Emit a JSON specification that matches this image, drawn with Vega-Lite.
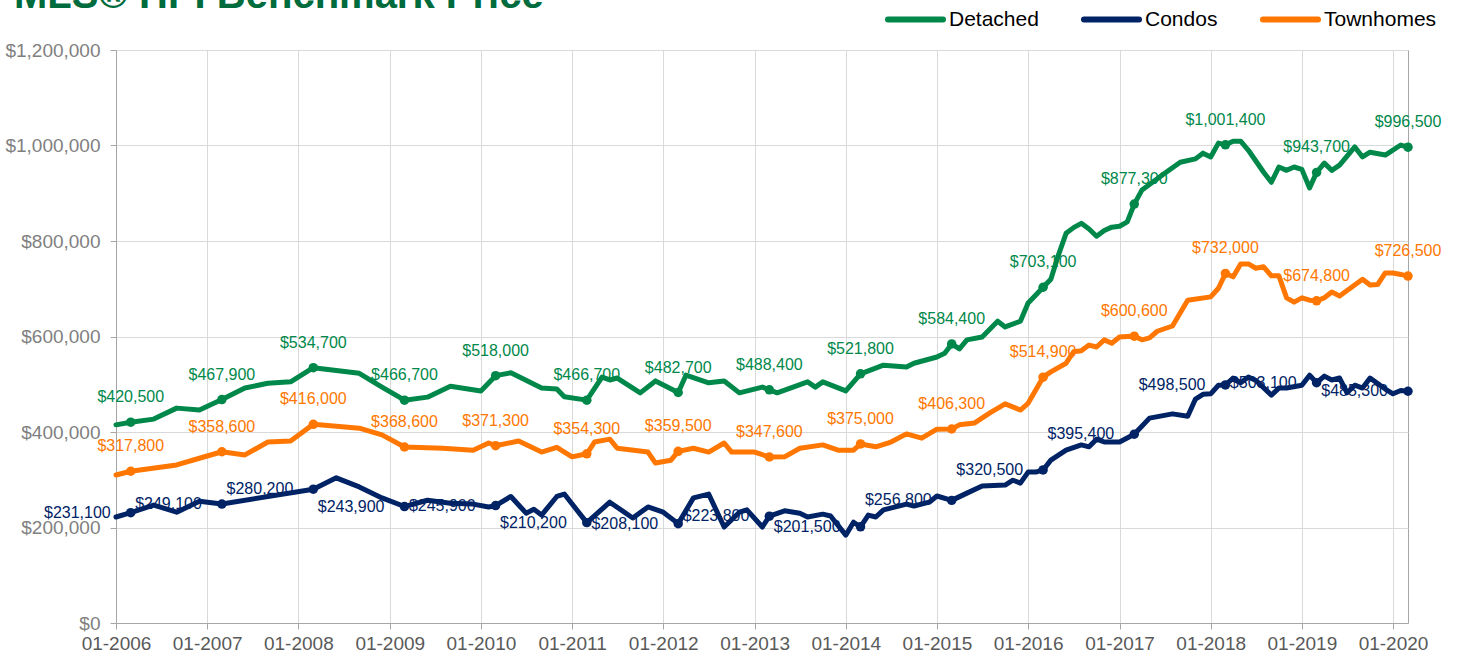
{
  "$schema": "https://vega.github.io/schema/vega-lite/v6.json",
  "width": 1292,
  "height": 573,
  "autosize": {"type": "none"},
  "padding": {"left": 116, "top": 50, "right": 50, "bottom": 37},
  "background": "white",
  "title": {
    "text": "MLS® HPI Benchmark Price",
    "anchor": "start",
    "frame": "group",
    "font": "Liberation Sans",
    "fontSize": 40,
    "fontWeight": "bold",
    "color": "#006b3c",
    "dx": -102,
    "dy": 37,
    "offset": 10
  },
  "config": {
    "view": {"stroke": "#a6a6a6", "strokeWidth": 1},
    "font": "Liberation Sans",
    "axis": {
      "labelFont": "Liberation Sans",
      "labelFontSize": 19,
      "gridColor": "#d9d9d9",
      "gridWidth": 1,
      "domainColor": "#a6a6a6",
      "tickColor": "#a6a6a6",
      "tickSize": 6,
      "title": null
    }
  },
  "datasets": {
    "prices": [
      {"date": "2006-01-01", "type": "Detached", "value": 415000},
      {"date": "2006-03-01", "type": "Detached", "value": 420500, "lab": 1},
      {"date": "2006-06-01", "type": "Detached", "value": 427000},
      {"date": "2006-09-01", "type": "Detached", "value": 450000},
      {"date": "2006-12-01", "type": "Detached", "value": 446000},
      {"date": "2007-03-01", "type": "Detached", "value": 467900, "lab": 1},
      {"date": "2007-06-01", "type": "Detached", "value": 492000},
      {"date": "2007-09-01", "type": "Detached", "value": 502000},
      {"date": "2007-12-01", "type": "Detached", "value": 505000},
      {"date": "2008-03-01", "type": "Detached", "value": 534700, "lab": 1},
      {"date": "2008-09-01", "type": "Detached", "value": 523000},
      {"date": "2008-12-01", "type": "Detached", "value": 494000},
      {"date": "2009-03-01", "type": "Detached", "value": 466700, "lab": 1},
      {"date": "2009-06-01", "type": "Detached", "value": 473000},
      {"date": "2009-09-01", "type": "Detached", "value": 496000},
      {"date": "2010-01-01", "type": "Detached", "value": 486000},
      {"date": "2010-03-01", "type": "Detached", "value": 518000, "lab": 1},
      {"date": "2010-05-01", "type": "Detached", "value": 524000},
      {"date": "2010-09-01", "type": "Detached", "value": 492000},
      {"date": "2010-11-01", "type": "Detached", "value": 490000},
      {"date": "2010-12-01", "type": "Detached", "value": 474000},
      {"date": "2011-03-01", "type": "Detached", "value": 466700, "lab": 1},
      {"date": "2011-05-01", "type": "Detached", "value": 515000},
      {"date": "2011-06-01", "type": "Detached", "value": 509000},
      {"date": "2011-07-01", "type": "Detached", "value": 513000},
      {"date": "2011-10-01", "type": "Detached", "value": 482000},
      {"date": "2011-12-01", "type": "Detached", "value": 507000},
      {"date": "2012-03-01", "type": "Detached", "value": 482700, "lab": 1},
      {"date": "2012-04-01", "type": "Detached", "value": 519000},
      {"date": "2012-07-01", "type": "Detached", "value": 503000},
      {"date": "2012-09-01", "type": "Detached", "value": 507000},
      {"date": "2012-11-01", "type": "Detached", "value": 482000},
      {"date": "2013-02-01", "type": "Detached", "value": 494000},
      {"date": "2013-03-01", "type": "Detached", "value": 488400, "lab": 1},
      {"date": "2013-04-01", "type": "Detached", "value": 482000},
      {"date": "2013-08-01", "type": "Detached", "value": 505000},
      {"date": "2013-09-01", "type": "Detached", "value": 494000},
      {"date": "2013-10-01", "type": "Detached", "value": 505000},
      {"date": "2014-01-01", "type": "Detached", "value": 486000},
      {"date": "2014-03-01", "type": "Detached", "value": 521800, "lab": 1},
      {"date": "2014-06-01", "type": "Detached", "value": 540000},
      {"date": "2014-09-01", "type": "Detached", "value": 536000},
      {"date": "2014-10-01", "type": "Detached", "value": 544000},
      {"date": "2015-01-01", "type": "Detached", "value": 557000},
      {"date": "2015-02-01", "type": "Detached", "value": 565000},
      {"date": "2015-03-01", "type": "Detached", "value": 584400, "lab": 1},
      {"date": "2015-04-01", "type": "Detached", "value": 574000},
      {"date": "2015-05-01", "type": "Detached", "value": 593000},
      {"date": "2015-07-01", "type": "Detached", "value": 599000},
      {"date": "2015-09-01", "type": "Detached", "value": 632000},
      {"date": "2015-10-01", "type": "Detached", "value": 620000},
      {"date": "2015-12-01", "type": "Detached", "value": 632000},
      {"date": "2016-01-01", "type": "Detached", "value": 670000},
      {"date": "2016-02-01", "type": "Detached", "value": 687000},
      {"date": "2016-03-01", "type": "Detached", "value": 703100, "lab": 1},
      {"date": "2016-04-01", "type": "Detached", "value": 720000},
      {"date": "2016-05-01", "type": "Detached", "value": 770000},
      {"date": "2016-06-01", "type": "Detached", "value": 816000},
      {"date": "2016-07-01", "type": "Detached", "value": 828000},
      {"date": "2016-08-01", "type": "Detached", "value": 837000},
      {"date": "2016-09-01", "type": "Detached", "value": 825000},
      {"date": "2016-10-01", "type": "Detached", "value": 810000},
      {"date": "2016-11-01", "type": "Detached", "value": 822000},
      {"date": "2016-12-01", "type": "Detached", "value": 829000},
      {"date": "2017-01-01", "type": "Detached", "value": 831000},
      {"date": "2017-02-01", "type": "Detached", "value": 840000},
      {"date": "2017-03-01", "type": "Detached", "value": 877300, "lab": 1},
      {"date": "2017-04-01", "type": "Detached", "value": 907000},
      {"date": "2017-07-01", "type": "Detached", "value": 942000},
      {"date": "2017-09-01", "type": "Detached", "value": 965000},
      {"date": "2017-11-01", "type": "Detached", "value": 972000},
      {"date": "2017-12-01", "type": "Detached", "value": 984000},
      {"date": "2018-01-01", "type": "Detached", "value": 976000},
      {"date": "2018-02-01", "type": "Detached", "value": 1005000},
      {"date": "2018-03-01", "type": "Detached", "value": 1001400, "lab": 1},
      {"date": "2018-04-01", "type": "Detached", "value": 1009000},
      {"date": "2018-05-01", "type": "Detached", "value": 1009000},
      {"date": "2018-06-01", "type": "Detached", "value": 990000},
      {"date": "2018-08-01", "type": "Detached", "value": 944000},
      {"date": "2018-09-01", "type": "Detached", "value": 923000},
      {"date": "2018-10-01", "type": "Detached", "value": 955000},
      {"date": "2018-11-01", "type": "Detached", "value": 948000},
      {"date": "2018-12-01", "type": "Detached", "value": 955000},
      {"date": "2019-01-01", "type": "Detached", "value": 950000},
      {"date": "2019-02-01", "type": "Detached", "value": 911000},
      {"date": "2019-03-01", "type": "Detached", "value": 943700, "lab": 1},
      {"date": "2019-04-01", "type": "Detached", "value": 963000},
      {"date": "2019-05-01", "type": "Detached", "value": 948000},
      {"date": "2019-06-01", "type": "Detached", "value": 959000},
      {"date": "2019-08-01", "type": "Detached", "value": 997000},
      {"date": "2019-09-01", "type": "Detached", "value": 976000},
      {"date": "2019-10-01", "type": "Detached", "value": 986000},
      {"date": "2019-12-01", "type": "Detached", "value": 980000},
      {"date": "2020-02-01", "type": "Detached", "value": 1001000},
      {"date": "2020-03-01", "type": "Detached", "value": 996500, "lab": 1},

      {"date": "2006-01-01", "type": "Townhomes", "value": 310000},
      {"date": "2006-03-01", "type": "Townhomes", "value": 317800, "lab": 1},
      {"date": "2006-09-01", "type": "Townhomes", "value": 331000},
      {"date": "2006-12-01", "type": "Townhomes", "value": 345000},
      {"date": "2007-03-01", "type": "Townhomes", "value": 358600, "lab": 1},
      {"date": "2007-06-01", "type": "Townhomes", "value": 352000},
      {"date": "2007-09-01", "type": "Townhomes", "value": 379000},
      {"date": "2007-12-01", "type": "Townhomes", "value": 381000},
      {"date": "2008-03-01", "type": "Townhomes", "value": 416000, "lab": 1},
      {"date": "2008-09-01", "type": "Townhomes", "value": 408000},
      {"date": "2008-12-01", "type": "Townhomes", "value": 394000},
      {"date": "2009-03-01", "type": "Townhomes", "value": 368600, "lab": 1},
      {"date": "2009-08-01", "type": "Townhomes", "value": 366000},
      {"date": "2009-12-01", "type": "Townhomes", "value": 362000},
      {"date": "2010-02-01", "type": "Townhomes", "value": 377000},
      {"date": "2010-03-01", "type": "Townhomes", "value": 371300, "lab": 1},
      {"date": "2010-06-01", "type": "Townhomes", "value": 381000},
      {"date": "2010-09-01", "type": "Townhomes", "value": 358000},
      {"date": "2010-11-01", "type": "Townhomes", "value": 368000},
      {"date": "2011-01-01", "type": "Townhomes", "value": 348000},
      {"date": "2011-03-01", "type": "Townhomes", "value": 354300, "lab": 1},
      {"date": "2011-04-01", "type": "Townhomes", "value": 379000},
      {"date": "2011-06-01", "type": "Townhomes", "value": 385000},
      {"date": "2011-07-01", "type": "Townhomes", "value": 366000},
      {"date": "2011-11-01", "type": "Townhomes", "value": 358000},
      {"date": "2011-12-01", "type": "Townhomes", "value": 335000},
      {"date": "2012-02-01", "type": "Townhomes", "value": 341000},
      {"date": "2012-03-01", "type": "Townhomes", "value": 359500, "lab": 1},
      {"date": "2012-05-01", "type": "Townhomes", "value": 366000},
      {"date": "2012-07-01", "type": "Townhomes", "value": 358000},
      {"date": "2012-09-01", "type": "Townhomes", "value": 377000},
      {"date": "2012-10-01", "type": "Townhomes", "value": 358000},
      {"date": "2013-01-01", "type": "Townhomes", "value": 358000},
      {"date": "2013-03-01", "type": "Townhomes", "value": 347600, "lab": 1},
      {"date": "2013-05-01", "type": "Townhomes", "value": 348000},
      {"date": "2013-07-01", "type": "Townhomes", "value": 366000},
      {"date": "2013-10-01", "type": "Townhomes", "value": 373000},
      {"date": "2013-12-01", "type": "Townhomes", "value": 362000},
      {"date": "2014-02-01", "type": "Townhomes", "value": 362000},
      {"date": "2014-03-01", "type": "Townhomes", "value": 375000, "lab": 1},
      {"date": "2014-05-01", "type": "Townhomes", "value": 369000},
      {"date": "2014-07-01", "type": "Townhomes", "value": 379000},
      {"date": "2014-09-01", "type": "Townhomes", "value": 396000},
      {"date": "2014-11-01", "type": "Townhomes", "value": 387000},
      {"date": "2015-01-01", "type": "Townhomes", "value": 406000},
      {"date": "2015-03-01", "type": "Townhomes", "value": 406300, "lab": 1},
      {"date": "2015-04-01", "type": "Townhomes", "value": 415000},
      {"date": "2015-06-01", "type": "Townhomes", "value": 419000},
      {"date": "2015-08-01", "type": "Townhomes", "value": 440000},
      {"date": "2015-10-01", "type": "Townhomes", "value": 459000},
      {"date": "2015-12-01", "type": "Townhomes", "value": 446000},
      {"date": "2016-01-01", "type": "Townhomes", "value": 460000},
      {"date": "2016-03-01", "type": "Townhomes", "value": 514900, "lab": 1},
      {"date": "2016-04-01", "type": "Townhomes", "value": 526000},
      {"date": "2016-06-01", "type": "Townhomes", "value": 544000},
      {"date": "2016-07-01", "type": "Townhomes", "value": 568000},
      {"date": "2016-08-01", "type": "Townhomes", "value": 570000},
      {"date": "2016-09-01", "type": "Townhomes", "value": 582000},
      {"date": "2016-10-01", "type": "Townhomes", "value": 578000},
      {"date": "2016-11-01", "type": "Townhomes", "value": 593000},
      {"date": "2016-12-01", "type": "Townhomes", "value": 586000},
      {"date": "2017-01-01", "type": "Townhomes", "value": 599000},
      {"date": "2017-02-01", "type": "Townhomes", "value": 600000},
      {"date": "2017-03-01", "type": "Townhomes", "value": 600600, "lab": 1},
      {"date": "2017-04-01", "type": "Townhomes", "value": 593000},
      {"date": "2017-05-01", "type": "Townhomes", "value": 597000},
      {"date": "2017-06-01", "type": "Townhomes", "value": 611000},
      {"date": "2017-08-01", "type": "Townhomes", "value": 622000},
      {"date": "2017-10-01", "type": "Townhomes", "value": 676000},
      {"date": "2018-01-01", "type": "Townhomes", "value": 683000},
      {"date": "2018-02-01", "type": "Townhomes", "value": 701000},
      {"date": "2018-03-01", "type": "Townhomes", "value": 732000, "lab": 1},
      {"date": "2018-04-01", "type": "Townhomes", "value": 725000},
      {"date": "2018-05-01", "type": "Townhomes", "value": 752000},
      {"date": "2018-06-01", "type": "Townhomes", "value": 752000},
      {"date": "2018-07-01", "type": "Townhomes", "value": 743000},
      {"date": "2018-08-01", "type": "Townhomes", "value": 746000},
      {"date": "2018-09-01", "type": "Townhomes", "value": 727000},
      {"date": "2018-10-01", "type": "Townhomes", "value": 727000},
      {"date": "2018-11-01", "type": "Townhomes", "value": 681000},
      {"date": "2018-12-01", "type": "Townhomes", "value": 672000},
      {"date": "2019-01-01", "type": "Townhomes", "value": 681000},
      {"date": "2019-02-01", "type": "Townhomes", "value": 676000},
      {"date": "2019-03-01", "type": "Townhomes", "value": 674800, "lab": 1},
      {"date": "2019-04-01", "type": "Townhomes", "value": 681000},
      {"date": "2019-05-01", "type": "Townhomes", "value": 693000},
      {"date": "2019-06-01", "type": "Townhomes", "value": 685000},
      {"date": "2019-09-01", "type": "Townhomes", "value": 720000},
      {"date": "2019-10-01", "type": "Townhomes", "value": 708000},
      {"date": "2019-11-01", "type": "Townhomes", "value": 709000},
      {"date": "2019-12-01", "type": "Townhomes", "value": 733000},
      {"date": "2020-01-01", "type": "Townhomes", "value": 733000},
      {"date": "2020-02-01", "type": "Townhomes", "value": 730000},
      {"date": "2020-03-01", "type": "Townhomes", "value": 726500, "lab": 1},

      {"date": "2006-01-01", "type": "Condos", "value": 222000},
      {"date": "2006-03-01", "type": "Condos", "value": 231100, "lab": 1},
      {"date": "2006-06-01", "type": "Condos", "value": 247000},
      {"date": "2006-09-01", "type": "Condos", "value": 232000},
      {"date": "2006-12-01", "type": "Condos", "value": 255000},
      {"date": "2007-03-01", "type": "Condos", "value": 249100, "lab": 1},
      {"date": "2008-03-01", "type": "Condos", "value": 280200, "lab": 1},
      {"date": "2008-06-01", "type": "Condos", "value": 304000},
      {"date": "2008-09-01", "type": "Condos", "value": 285000},
      {"date": "2008-12-01", "type": "Condos", "value": 262000},
      {"date": "2009-03-01", "type": "Condos", "value": 243900, "lab": 1},
      {"date": "2009-06-01", "type": "Condos", "value": 257000},
      {"date": "2009-09-01", "type": "Condos", "value": 251000},
      {"date": "2009-12-01", "type": "Condos", "value": 249000},
      {"date": "2010-02-01", "type": "Condos", "value": 243000},
      {"date": "2010-03-01", "type": "Condos", "value": 245900, "lab": 1},
      {"date": "2010-05-01", "type": "Condos", "value": 265000},
      {"date": "2010-07-01", "type": "Condos", "value": 230000},
      {"date": "2010-08-01", "type": "Condos", "value": 238000},
      {"date": "2010-09-01", "type": "Condos", "value": 226000},
      {"date": "2010-11-01", "type": "Condos", "value": 265000},
      {"date": "2010-12-01", "type": "Condos", "value": 270000},
      {"date": "2011-03-01", "type": "Condos", "value": 210200, "lab": 1},
      {"date": "2011-06-01", "type": "Condos", "value": 253000},
      {"date": "2011-09-01", "type": "Condos", "value": 220000},
      {"date": "2011-11-01", "type": "Condos", "value": 243000},
      {"date": "2012-01-01", "type": "Condos", "value": 232000},
      {"date": "2012-03-01", "type": "Condos", "value": 208100, "lab": 1},
      {"date": "2012-05-01", "type": "Condos", "value": 262000},
      {"date": "2012-07-01", "type": "Condos", "value": 270000},
      {"date": "2012-09-01", "type": "Condos", "value": 201000},
      {"date": "2012-11-01", "type": "Condos", "value": 232000},
      {"date": "2012-12-01", "type": "Condos", "value": 237000},
      {"date": "2013-02-01", "type": "Condos", "value": 201000},
      {"date": "2013-03-01", "type": "Condos", "value": 223800, "lab": 1},
      {"date": "2013-05-01", "type": "Condos", "value": 235000},
      {"date": "2013-07-01", "type": "Condos", "value": 230000},
      {"date": "2013-08-01", "type": "Condos", "value": 222000},
      {"date": "2013-10-01", "type": "Condos", "value": 228000},
      {"date": "2013-11-01", "type": "Condos", "value": 224000},
      {"date": "2014-01-01", "type": "Condos", "value": 184000},
      {"date": "2014-02-01", "type": "Condos", "value": 211000},
      {"date": "2014-03-01", "type": "Condos", "value": 201500, "lab": 1},
      {"date": "2014-04-01", "type": "Condos", "value": 226000},
      {"date": "2014-05-01", "type": "Condos", "value": 222000},
      {"date": "2014-06-01", "type": "Condos", "value": 237000},
      {"date": "2014-09-01", "type": "Condos", "value": 249000},
      {"date": "2014-10-01", "type": "Condos", "value": 245000},
      {"date": "2014-12-01", "type": "Condos", "value": 253000},
      {"date": "2015-01-01", "type": "Condos", "value": 266000},
      {"date": "2015-03-01", "type": "Condos", "value": 256800, "lab": 1},
      {"date": "2015-05-01", "type": "Condos", "value": 272000},
      {"date": "2015-07-01", "type": "Condos", "value": 287000},
      {"date": "2015-10-01", "type": "Condos", "value": 289000},
      {"date": "2015-11-01", "type": "Condos", "value": 299000},
      {"date": "2015-12-01", "type": "Condos", "value": 293000},
      {"date": "2016-01-01", "type": "Condos", "value": 316000},
      {"date": "2016-02-01", "type": "Condos", "value": 316000},
      {"date": "2016-03-01", "type": "Condos", "value": 320500, "lab": 1},
      {"date": "2016-04-01", "type": "Condos", "value": 341000},
      {"date": "2016-06-01", "type": "Condos", "value": 362000},
      {"date": "2016-08-01", "type": "Condos", "value": 373000},
      {"date": "2016-09-01", "type": "Condos", "value": 369000},
      {"date": "2016-10-01", "type": "Condos", "value": 385000},
      {"date": "2016-11-01", "type": "Condos", "value": 379000},
      {"date": "2017-01-01", "type": "Condos", "value": 379000},
      {"date": "2017-03-01", "type": "Condos", "value": 395400, "lab": 1},
      {"date": "2017-05-01", "type": "Condos", "value": 429000},
      {"date": "2017-08-01", "type": "Condos", "value": 438000},
      {"date": "2017-10-01", "type": "Condos", "value": 433000},
      {"date": "2017-11-01", "type": "Condos", "value": 469000},
      {"date": "2017-12-01", "type": "Condos", "value": 479000},
      {"date": "2018-01-01", "type": "Condos", "value": 480000},
      {"date": "2018-02-01", "type": "Condos", "value": 498000},
      {"date": "2018-03-01", "type": "Condos", "value": 498500, "lab": 1},
      {"date": "2018-04-01", "type": "Condos", "value": 513000},
      {"date": "2018-05-01", "type": "Condos", "value": 503000},
      {"date": "2018-06-01", "type": "Condos", "value": 515000},
      {"date": "2018-07-01", "type": "Condos", "value": 508000},
      {"date": "2018-09-01", "type": "Condos", "value": 477000},
      {"date": "2018-10-01", "type": "Condos", "value": 492000},
      {"date": "2018-11-01", "type": "Condos", "value": 492000},
      {"date": "2019-01-01", "type": "Condos", "value": 498000},
      {"date": "2019-02-01", "type": "Condos", "value": 519000},
      {"date": "2019-03-01", "type": "Condos", "value": 503100, "lab": 1},
      {"date": "2019-04-01", "type": "Condos", "value": 517000},
      {"date": "2019-05-01", "type": "Condos", "value": 509000},
      {"date": "2019-06-01", "type": "Condos", "value": 513000},
      {"date": "2019-07-01", "type": "Condos", "value": 482000},
      {"date": "2019-08-01", "type": "Condos", "value": 498000},
      {"date": "2019-09-01", "type": "Condos", "value": 492000},
      {"date": "2019-10-01", "type": "Condos", "value": 513000},
      {"date": "2019-12-01", "type": "Condos", "value": 490000},
      {"date": "2020-01-01", "type": "Condos", "value": 480000},
      {"date": "2020-02-01", "type": "Condos", "value": 487000},
      {"date": "2020-03-01", "type": "Condos", "value": 485300, "lab": 1}
    ]
  },
  "data": {"name": "prices"},
  "encoding": {
    "x": {
      "field": "date",
      "type": "temporal",
      "scale": {"type": "utc", "domain": ["2006-01-01", "2020-03-01"], "nice": false},
      "axis": {
        "format": "%m-%Y",
        "tickCount": {"interval": "year", "step": 1},
        "labelOverlap": false,
        "labelFlush": false,
        "labelColor": "#595959",
        "labelPadding": 5,
        "grid": true
      }
    },
    "y": {
      "field": "value",
      "type": "quantitative",
      "scale": {"domain": [0, 1200000], "nice": false},
      "axis": {
        "values": [0, 200000, 400000, 600000, 800000, 1000000, 1200000],
        "format": "$,.0f",
        "labelColor": "#7f7f7f",
        "labelPadding": 10,
        "grid": true
      }
    },
    "color": {
      "field": "type",
      "type": "nominal",
      "scale": {"domain": ["Detached", "Condos", "Townhomes"], "range": ["#00884a", "#002366", "#ff7700"]},
      "legend": {
        "title": null,
        "orient": "none",
        "legendX": 769,
        "legendY": -61,
        "direction": "horizontal",
        "symbolType": "stroke",
        "symbolSize": 3025,
        "symbolStrokeWidth": 6,
        "labelFont": "Liberation Sans",
        "labelFontSize": 21,
        "labelColor": "#000000",
        "labelOffset": 3,
        "gridAlign": "none",
        "columnPadding": 33,
        "labelLimit": 300,
        "encode": {"symbols": {"update": {"strokeCap": {"value": "round"}}}}
      }
    }
  },
  "layer": [
    {
      "transform": [{"filter": "datum.lab == 1 && datum.type != 'Condos'"}],
      "mark": {"type": "text", "dy": -25, "fontSize": 16, "font": "Liberation Sans", "align": "center", "baseline": "middle"},
      "encoding": {"text": {"field": "value", "type": "quantitative", "format": "$,.0f"}}
    },
    {
      "transform": [{"filter": "datum.lab == 1 && datum.type == 'Condos'"}],
      "mark": {"type": "text", "dx": -20, "fontSize": 16, "font": "Liberation Sans", "align": "right", "baseline": "middle"},
      "encoding": {"text": {"field": "value", "type": "quantitative", "format": "$,.0f"}}
    },
    {
      "mark": {"type": "line", "strokeWidth": 5, "strokeJoin": "round", "strokeCap": "round"},
      "encoding": {}
    },
    {
      "transform": [{"filter": "datum.lab == 1"}],
      "mark": {"type": "circle", "size": 90, "opacity": 1},
      "encoding": {}
    }
  ]
}
